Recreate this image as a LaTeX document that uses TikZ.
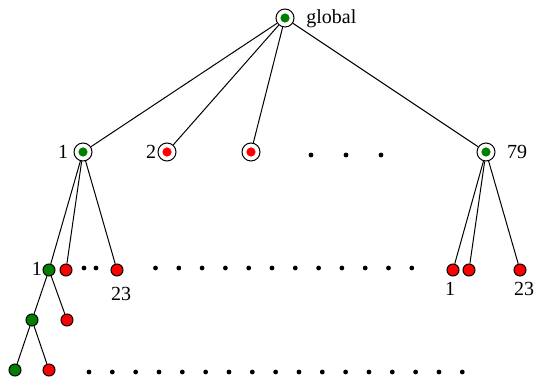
\documentclass[tikz,border=0pt]{standalone}
\usepackage{fontspec}
\setmainfont{Liberation Serif}
\definecolor{dgreen}{RGB}{0,128,0}
\begin{document}
\begin{tikzpicture}[x=0.5pt,y=-0.5pt,
  big/.style={circle,draw,line width=0.5pt,minimum size=9pt,inner sep=0pt},
  gdot/.style={circle,fill=dgreen,minimum size=4.6pt,inner sep=0pt},
  rdot/.style={circle,fill=red,minimum size=4.6pt,inner sep=0pt},
  gsm/.style={circle,draw,line width=0.5pt,fill=dgreen,minimum size=6pt,inner sep=0pt},
  rsm/.style={circle,draw,line width=0.5pt,fill=red,minimum size=6pt,inner sep=0pt},
  ell/.style={circle,fill=black,minimum size=2.4pt,inner sep=0pt},
  lbl/.style={inner sep=0pt,font=\fontsize{10}{12}\selectfont},
  edge/.style={line width=0.5pt}]
\useasboundingbox (0,0) rectangle (536,378);
% root
\node[big] (r) at (285,18) {};
\node[gdot] at (r.center) {};
\node[lbl,anchor=west] (rl) at (306,19) {global};
% level 1
\node[big] (a1) at (83,152) {};
\node[gdot] at (a1.center) {};
\node[big] (a2) at (167,152) {};
\node[rdot] at (a2.center) {};
\node[big] (a3) at (251,152) {};
\node[rdot] at (a3.center) {};
\node[big] (a79) at (486,152) {};
\node[gdot] at (a79.center) {};
\node[lbl] (l1) at (63,152) {1};
\node[lbl] (l2) at (151,152) {2};
\node[lbl] (l79) at (517,152) {79};
\foreach \x [count=\i] in {311,346,381} \node[ell] (e\i) at (\x,155) {};
\foreach \n in {a1,a2,a3,a79} \draw[edge] (r) -- (\n);
% level 2 left
\node[gsm] (b1) at (49,270) {};
\node[rsm] (b2) at (66,270) {};
\node[rsm] (b23) at (117,270) {};
\node[lbl] (lb1) at (37,269) {1};
\node[lbl] (lb23) at (121,294) {23};
\foreach \x [count=\i] in {84,96} \node[ell] (f\i) at (\x,268) {};
\foreach \i in {0,...,11} \node[ell] (g\i) at (155.5+23.3*\i,268) {};
\foreach \n in {b1,b2,b23} \draw[edge] (a1) -- (\n);
% level 2 right
\node[rsm] (c1) at (453,270) {};
\node[rsm] (c2) at (469,270) {};
\node[rsm] (c23) at (520,270) {};
\node[lbl] (lc1) at (450,289) {1};
\node[lbl] (lc23) at (524,289) {23};
\foreach \n in {c1,c2,c23} \draw[edge] (a79) -- (\n);
% level 3
\node[gsm] (d1) at (32,320) {};
\node[rsm] (d2) at (67,320) {};
\draw[edge] (b1) -- (d1);
\draw[edge] (b1) -- (d2);
% level 4
\node[gsm] (h1) at (15,370) {};
\node[rsm] (h2) at (49,370) {};
\draw[edge] (d1) -- (h1);
\draw[edge] (d1) -- (h2);
\foreach \i in {0,...,16} \node[ell] (k\i) at (89+23.33*\i,372) {};
\end{tikzpicture}
\end{document}
